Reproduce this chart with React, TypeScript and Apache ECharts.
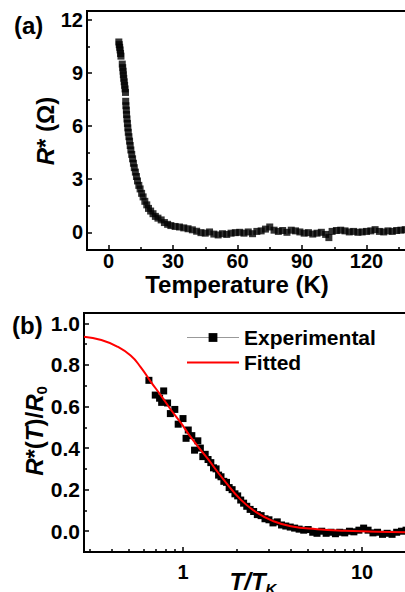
import React, { useEffect, useRef } from "react";
import * as echarts from "echarts";

// Panel (a): R* vs temperature
const tempK = [
  4.8, 5.0, 5.2, 5.4, 5.6, 5.8,
  6.4, 6.6, 6.8, 6.9, 7.1, 7.3, 7.5, 7.7, 7.9,
  8.0, 8.1, 8.3, 8.4, 8.6, 8.8, 9.0, 9.2, 9.5, 9.8, 10.1, 10.4, 10.8, 11.2, 11.6, 12.0,
  12.5, 13.0, 13.5, 14.1, 14.7, 15.4, 16.1, 16.9, 17.8, 18.6, 19.6, 20.7, 21.8, 23.0,
  24.5, 26.0, 27.5, 29.0, 31, 33, 35, 37, 39, 41, 43,
  45, 47, 49, 51, 53, 55, 57, 59, 61, 63, 65, 67, 69, 71, 73, 75, 77, 79, 81, 83, 85,
  87, 89, 91, 93, 95, 97, 99, 101, 102.5, 104, 106, 108, 110, 112, 114, 116, 118, 120,
  122, 124, 126, 128, 130, 132, 134, 136, 138, 140, 142, 144, 146, 148,
];
const rOhm = [
  10.75, 10.6, 10.45, 10.3, 10.1, 9.95,
  9.5, 9.3, 9.1, 8.9, 8.7, 8.5, 8.3, 8.1, 7.9,
  7.4, 7.15, 6.9, 6.65, 6.4, 6.15, 5.9, 5.65, 5.4, 5.15, 4.9, 4.65, 4.4, 4.15, 3.9, 3.65,
  3.4, 3.15, 2.9, 2.65, 2.45, 2.2, 2.0, 1.75, 1.55, 1.35, 1.2, 1.05, 0.9, 0.8,
  0.7, 0.55, 0.45, 0.38, 0.33, 0.3, 0.25, 0.2, 0.14, 0.06, -0.02,
  -0.05, 0.02, -0.1, -0.15, -0.08, -0.12, -0.05, -0.02, 0.0, -0.05, 0.02, -0.08, 0.05, 0.08, 0.18, 0.3, 0.12, 0.05, 0.1, 0.0, 0.12,
  0.08, 0.02, -0.05, -0.02, -0.1, -0.05, 0.0, -0.12, -0.3, 0.05, 0.1, 0.12, 0.08, 0.02, 0.05, 0.0, 0.02, 0.05,
  0.08, 0.15, 0.05, 0.02, 0.08, 0.05, 0.1, 0.12, 0.15, 0.1, 0.08, 0.12, 0.1, 0.05,
];

// Panel (b): normalised R* vs T/TK
const ratioT = [
  0.645, 0.70, 0.74, 0.78, 0.76, 0.82, 0.85, 0.90, 0.94, 1.0, 1.04, 1.07, 1.12, 1.16, 1.21,
  1.25, 1.29, 1.33, 1.38, 1.43, 1.48, 1.53, 1.58, 1.63, 1.69, 1.75, 1.81, 1.88, 1.95, 2.02,
  2.1, 2.18, 2.27, 2.37, 2.48, 2.6, 2.73, 2.87, 3.02, 3.18, 3.36, 3.55, 3.75, 3.97, 4.2,
  4.45, 4.72, 5.0, 5.3, 5.6, 5.95, 6.3, 6.7, 7.1, 7.5, 8.0, 8.5, 9.0, 9.6, 10.2, 10.8,
  11.5, 12.2, 13.0, 13.8, 14.7, 15.6, 16.6, 17.6, 18.7, 19.8,
];
const ratioR = [
  0.726, 0.655, 0.64, 0.675, 0.62, 0.617, 0.566, 0.586, 0.515, 0.542, 0.447, 0.487, 0.46, 0.39, 0.435,
  0.40, 0.359, 0.37, 0.345, 0.33, 0.305, 0.30, 0.27, 0.262, 0.24, 0.235, 0.21, 0.20, 0.18, 0.17,
  0.15, 0.135, 0.12, 0.105, 0.095, 0.08, 0.075, 0.06, 0.055, 0.04, 0.045, 0.03, 0.025, 0.02, 0.015,
  0.01, 0.005, 0.008, -0.005, -0.01, 0.0, -0.01, -0.005, -0.012, -0.005, -0.008, 0.0, -0.003, 0.005, 0.015, 0.005,
  -0.008, -0.005, -0.015, -0.01, -0.015, -0.005, 0.0, 0.005, -0.005, 0.0,
];
const fitT = [0.28, 0.35, 0.43, 0.51, 0.58, 0.66, 0.75, 0.86, 0.98, 1.1, 1.37, 1.69, 2.1, 2.6, 3.2, 4.0, 5.6, 8, 12, 20];
const fitR = [0.936, 0.92, 0.888, 0.845, 0.79, 0.72, 0.655, 0.582, 0.518, 0.455, 0.35, 0.247, 0.152, 0.088, 0.048, 0.024, 0.01, 0.002, -0.003, -0.005];

// Tick values
const topXLabels = [0, 30, 60, 90, 120];
const topXTicks = [0, 30, 60, 90, 120, 150];
const topXMinor = [15, 45, 75, 105, 135];
const topYTicks = [0, 3, 6, 9, 12];
const topYMinor = [1.5, 4.5, 7.5, 10.5];
const botXTicks = [1, 10];
const botXMinor = [0.3, 0.4, 0.5, 0.6, 0.7, 0.8, 0.9, 2, 3, 4, 5, 6, 7, 8, 9];
const botYTicks = [0, 0.2, 0.4, 0.6, 0.8, 1.0];
const botYMinor = [0.1, 0.3, 0.5, 0.7, 0.9];

const FONT = "'Liberation Sans', Arial, sans-serif";

function zip(a: number[], b: number[]) {
  return a.map((v, i) => [v, b[i]]);
}

const lineStyle = { color: "#000", width: 2 };

function mainAxis(extra: any, labels: number[], ticks: number[], labelExtra: any = {}) {
  return {
    splitLine: { show: false },
    axisLine: { show: true, onZero: false, lineStyle },
    axisTick: { show: true, inside: true, length: 5, customValues: ticks, lineStyle: { color: "#000", width: 1.5 } },
    axisLabel: {
      customValues: labels,
      color: "#000",
      fontSize: 20,
      lineHeight: 18,
      fontWeight: "bold",
      fontFamily: FONT,
      ...labelExtra,
    },
    ...extra,
  };
}

function minorAxis(extra: any, ticks: number[]) {
  return {
    splitLine: { show: false },
    axisLine: { show: false, onZero: false },
    axisLabel: { show: false },
    axisTick: { show: true, inside: true, length: 3, customValues: ticks, lineStyle: { color: "#000", width: 1.5 } },
    ...extra,
  };
}

export default function App() {
  const ref = useRef<HTMLDivElement>(null);
  useEffect(() => {
    if (!ref.current) return;
    const chart = echarts.init(ref.current, undefined, { renderer: "svg" });
    const titleStyle = { fontSize: 24, lineHeight: 20, fontWeight: "bold", fontFamily: FONT, fill: "#000" };
    const ital = { fontStyle: "italic", fontSize: 24, fontWeight: "bold", fontFamily: FONT, lineHeight: 30, verticalAlign: "middle" };
    const norm = { fontSize: 24, fontWeight: "bold", fontFamily: FONT, lineHeight: 30, verticalAlign: "middle" };
    const sub = { fontSize: 15, fontWeight: "bold", fontFamily: FONT, lineHeight: 30, verticalAlign: "bottom" };
    chart.setOption({
      animation: false,
      backgroundColor: "#fff",
      grid: [
        { left: 87, top: 11, width: 344, height: 239, show: true, borderColor: "#000", borderWidth: 2, backgroundColor: "transparent" },
        { left: 84, top: 313, width: 332, height: 239, show: true, borderColor: "#000", borderWidth: 2, backgroundColor: "transparent" },
      ],
      xAxis: [
        mainAxis({ gridIndex: 0, type: "value", min: -10, max: 150, position: "bottom" }, topXLabels, topXTicks, { margin: 2 }),
        minorAxis({ gridIndex: 0, type: "value", min: -10, max: 150, position: "bottom" }, topXMinor),
        mainAxis({ gridIndex: 1, type: "log", logBase: 10, min: 0.28, max: 20, position: "bottom" }, botXTicks, botXTicks, { margin: 11 }),
        minorAxis({ gridIndex: 1, type: "log", logBase: 10, min: 0.28, max: 20, position: "bottom" }, botXMinor),
      ],
      yAxis: [
        mainAxis({ gridIndex: 0, type: "value", min: -1, max: 12.5, position: "left" }, topYTicks, topYTicks, { margin: 4 }),
        minorAxis({ gridIndex: 0, type: "value", min: -1, max: 12.5, position: "left" }, topYMinor),
        mainAxis({ gridIndex: 1, type: "value", min: -0.1, max: 1.05, position: "left" }, botYTicks, botYTicks, {
          margin: 4,
          fontSize: 21,
          formatter: (v: number) => v.toFixed(1),
        }),
        minorAxis({ gridIndex: 1, type: "value", min: -0.1, max: 1.05, position: "left" }, botYMinor),
      ],
      legend: {
        orient: "vertical",
        left: 181,
        top: 322,
        itemWidth: 52,
        itemHeight: 11,
        itemGap: 4,
        selectedMode: false,
        textStyle: { fontSize: 21, fontWeight: "bold", fontFamily: FONT, color: "#000", lineHeight: 21 },
        data: [
          { name: "Experimental", lineStyle: { color: "#999", width: 1, opacity: 1 } },
          { name: "Fitted", itemStyle: { opacity: 0 }, lineStyle: { color: "#ff0000", width: 2, opacity: 1 } },
        ],
      },
      series: [
        {
          name: "R*",
          type: "scatter",
          xAxisIndex: 0,
          yAxisIndex: 0,
          symbol: "rect",
          symbolSize: 7,
          itemStyle: { color: "#000" },
          data: zip(tempK, rOhm),
        },
        {
          name: "Experimental",
          type: "line",
          xAxisIndex: 2,
          yAxisIndex: 2,
          z: 2,
          symbol: "rect",
          symbolSize: 7,
          showSymbol: true,
          showAllSymbol: true,
          itemStyle: { color: "#000" },
          lineStyle: { width: 0, color: "#999" },
          data: zip(ratioT, ratioR),
        },
        {
          name: "Fitted",
          type: "line",
          xAxisIndex: 2,
          yAxisIndex: 2,
          z: 5,
          smooth: true,
          symbol: "none",
          itemStyle: { color: "#ff0000" },
          lineStyle: { color: "#ff0000", width: 2 },
          data: zip(fitT, fitR),
        },
      ],
      graphic: [
        { type: "text", x: 14, y: 25, style: { ...titleStyle, text: "(a)", align: "left", verticalAlign: "middle" } },
        { type: "text", x: 12, y: 325, style: { ...titleStyle, text: "(b)", align: "left", verticalAlign: "middle" } },
        {
          type: "text",
          x: 237,
          y: 284,
          style: { ...titleStyle, text: "Temperature (K)", align: "center", verticalAlign: "middle" },
        },
        {
          type: "text",
          x: 45,
          y: 131,
          rotation: Math.PI / 2,
          style: {
            ...titleStyle,
            text: "{i|R}{n|* (Ω)}",
            align: "center",
            verticalAlign: "middle",
            rich: { i: ital, n: norm },
          },
        },
        {
          type: "text",
          x: 34,
          y: 431,
          rotation: Math.PI / 2,
          style: {
            ...titleStyle,
            text: "{i|R}{n|*(}{i|T}{n|)/}{i|R}{s|0}",
            align: "center",
            verticalAlign: "middle",
            rich: { i: ital, n: norm, s: sub },
          },
        },
        {
          type: "text",
          x: 253,
          y: 581,
          style: {
            ...titleStyle,
            text: "{i|T}{i|/}{i|T}{s|K}",
            align: "center",
            verticalAlign: "middle",
            rich: { i: ital, s: { ...sub, fontStyle: "italic" } },
          },
        },
      ],
    });
    return () => chart.dispose();
  }, []);
  return (
    <div style={{ position: "fixed", left: 0, top: 0, width: 405, height: 592, overflow: "hidden", background: "#fff" }}>
      <div ref={ref} style={{ width: 440, height: 592 }} />
    </div>
  );
}
